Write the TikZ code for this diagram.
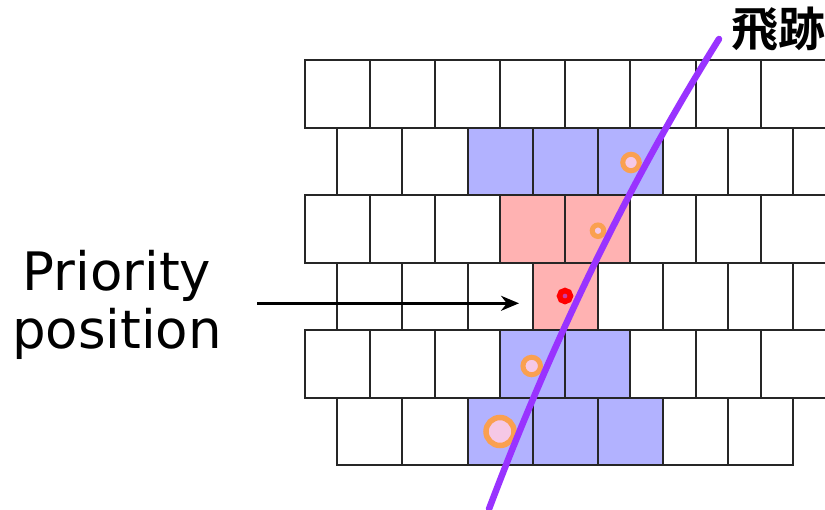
\documentclass[tikz,border=0pt]{standalone}
\usepackage{fontspec}
\setmainfont{DejaVu Sans}
\newfontfamily\jpfont{Noto Sans CJK JP}[BoldFont={* Bold}]
\usetikzlibrary{arrows.meta}

\definecolor{hitblue}{RGB}{178,178,255}
\definecolor{hitred}{RGB}{255,178,178}
\definecolor{trackpurple}{RGB}{153,51,255}
\definecolor{ringorange}{RGB}{250,160,80}
\definecolor{ringpink}{RGB}{245,200,230}
\definecolor{dotred}{RGB}{255,0,0}
\definecolor{dotcore}{RGB}{205,60,165}

\tikzset{
  cellbox/.style={draw=black!85, line width=2pt},
  ring/.style={draw=ringorange, fill=ringpink, line width=5pt},
}

\begin{document}
\begin{tikzpicture}[x=1pt, y=-1pt, >=Stealth]

\useasboundingbox (0,0) rectangle (825,509);
\clip (0,0) rectangle (825,509);

% --- Pixel rows (odd rows shifted by half a cell) ---
\foreach \r/\xs/\n in {0/304.5/8, 1/337.3/8, 2/304.5/8, 3/337.3/8, 4/304.5/8, 5/337.3/7} {
  \foreach \i in {1,...,\n} {
    \fill[white, cellbox] ({\xs+65.17*(\i-1)}, {60+67.5*\r}) rectangle ++(65.17, 67.5);
  }
}

% --- Hit pixels ---
\foreach \r/\xs/\i/\col in {1/337.3/2/hitblue, 1/337.3/3/hitblue, 1/337.3/4/hitblue,
    2/304.5/3/hitred, 2/304.5/4/hitred, 3/337.3/3/hitred,
    4/304.5/3/hitblue, 4/304.5/4/hitblue,
    5/337.3/2/hitblue, 5/337.3/3/hitblue, 5/337.3/4/hitblue} {
  \fill[\col, cellbox] ({\xs+65.17*\i}, {60+67.5*\r}) rectangle ++(65.17, 67.5);
}

% --- Charge clusters ---
\draw[ring] (631, 162.5) circle (8.25);
\draw[ring] (598, 230.7) circle (5.75);
\draw[draw=dotred, fill=dotcore, line width=5.5pt] (565, 296) circle (5.5);
\draw[ring] (531.7, 366) circle (8.75);
\draw[ring, line width=5.5pt] (500, 431.5) circle (14);

% --- Track ---
\draw[trackpurple, line width=6.5pt, line cap=round]
  (719, 39) .. controls (631.7, 178.3) and (555, 334.3) .. (489, 509);

% --- Labels ---
\node[font=\jpfont\bfseries\fontsize{47}{52}\selectfont, inner sep=0pt] (tracklabel) at (778.5, 29) {飛跡};
\node[font=\fontsize{53}{58}\selectfont, align=center, inner sep=0pt] (prio) at (117, 305) {Priority\\position};

\coordinate (arrowtail) at (257.3, 303.3);
\coordinate (arrowhead) at (519, 303.3);
\draw[line width=2.5pt, -{Stealth[length=18pt, width=15pt]}] (arrowtail) -- (arrowhead);

\end{tikzpicture}
\end{document}
